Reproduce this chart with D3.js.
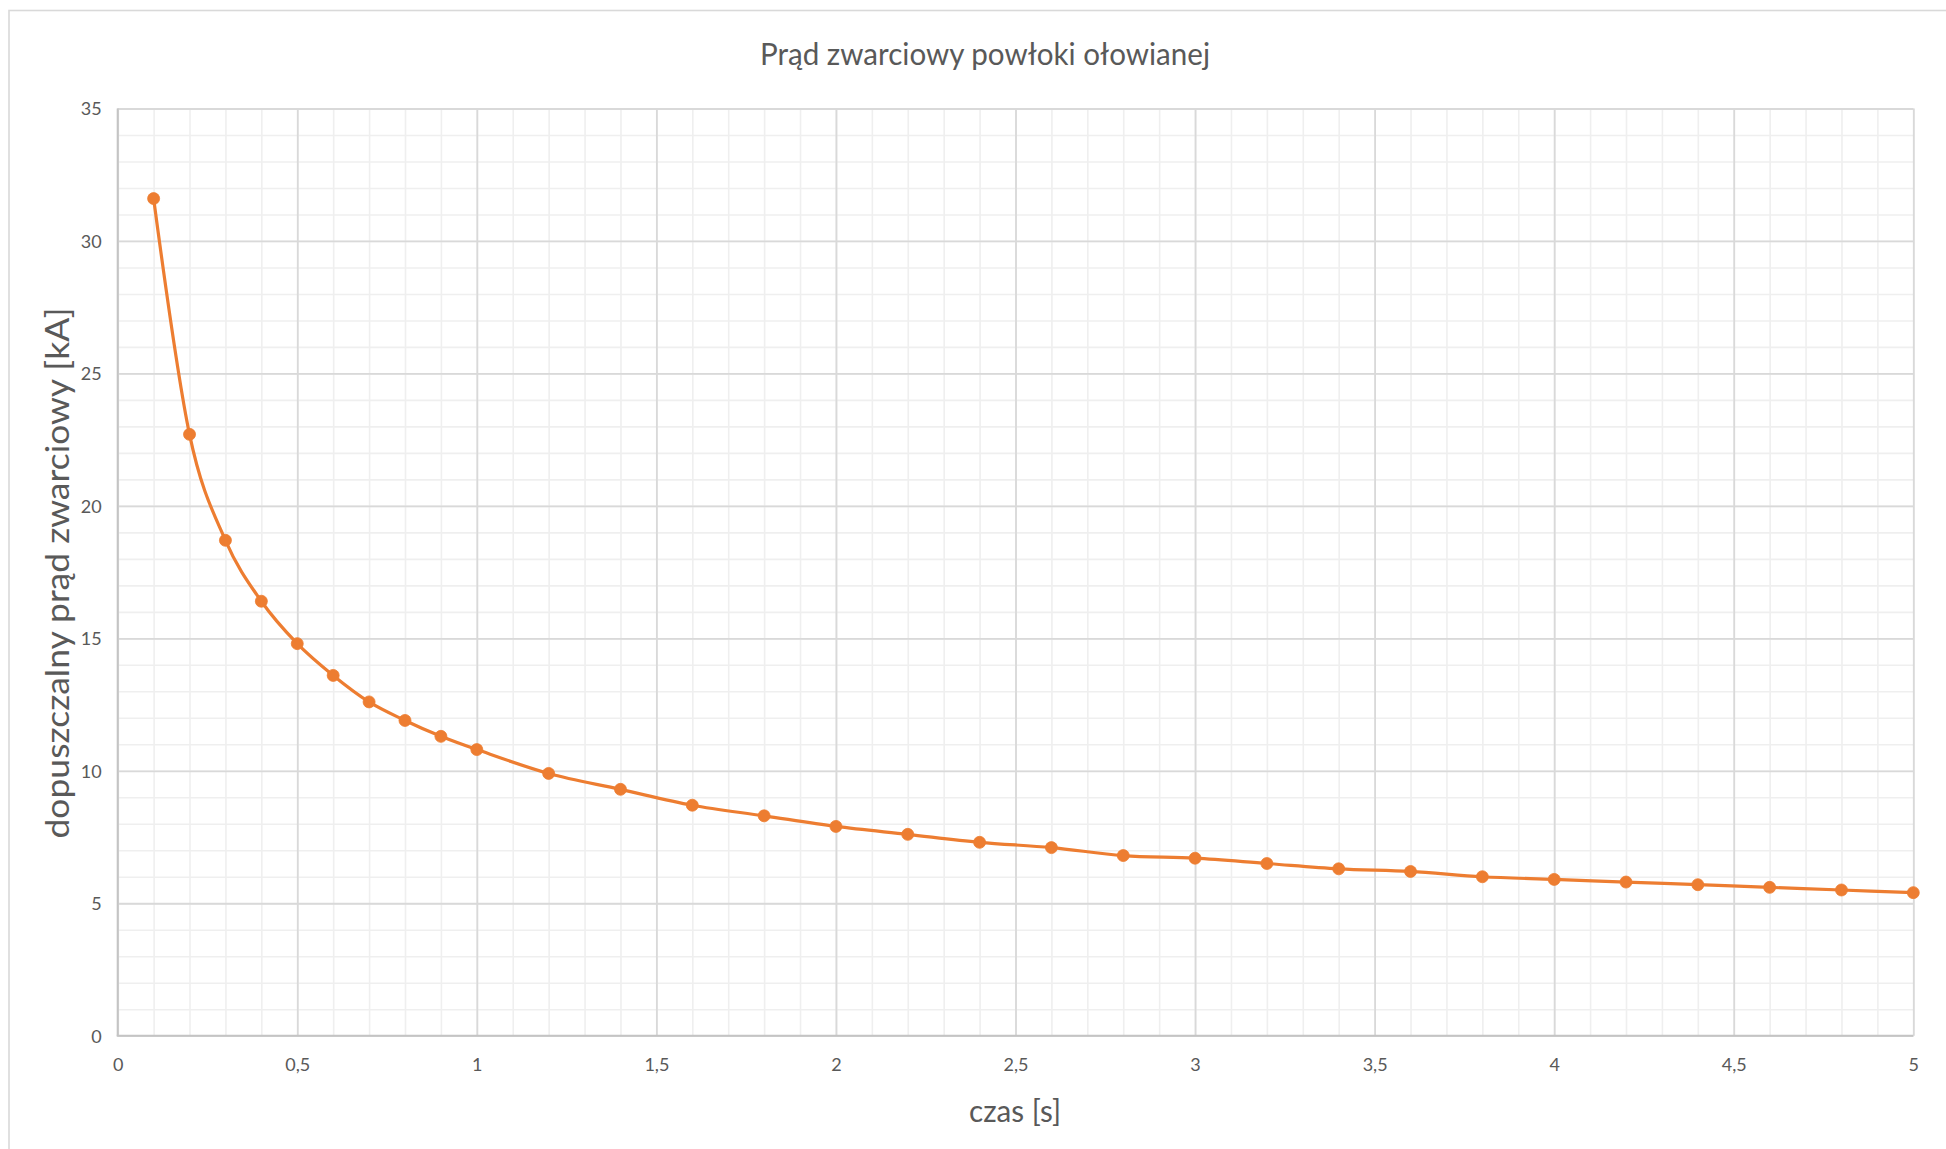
<!DOCTYPE html>
<html lang="pl">
<head>
<meta charset="utf-8">
<title>Prąd zwarciowy powłoki ołowianej</title>
<script src="https://cdn.jsdelivr.net/npm/d3@7"></script>
<style>
  html, body { margin: 0; padding: 0; background: #ffffff; }
  svg { display: block; font-family: Lato, "Open Sans", "Noto Sans", sans-serif; }
</style>
</head>
<body>
<svg id="chart" width="1946" height="1149"></svg>
<script>
// Czas trwania zwarcia [s]
const czas = [0.1, 0.2, 0.3, 0.4, 0.5, 0.6, 0.7, 0.8, 0.9, 1.0,
              1.2, 1.4, 1.6, 1.8, 2.0, 2.2, 2.4, 2.6, 2.8, 3.0,
              3.2, 3.4, 3.6, 3.8, 4.0, 4.2, 4.4, 4.6, 4.8, 5.0];
// Dopuszczalny prąd zwarciowy powłoki [kA]
const prad = [31.6, 22.7, 18.7, 16.4, 14.8, 13.6, 12.6, 11.9, 11.3, 10.8,
              9.9, 9.3, 8.7, 8.3, 7.9, 7.6, 7.3, 7.1, 6.8, 6.7,
              6.5, 6.3, 6.2, 6.0, 5.9, 5.8, 5.7, 5.6, 5.5, 5.4];
// Podziałki osi
const xTicks = [0, 0.5, 1, 1.5, 2, 2.5, 3, 3.5, 4, 4.5, 5];
const yTicks = [0, 5, 10, 15, 20, 25, 30, 35];
const xMinor = d3.range(0, 51).map(i => i / 10);
const yMinor = d3.range(0, 36);

const title = "Prąd zwarciowy powłoki ołowianej";
const xTitle = "czas [s]";
const yTitle = "dopuszczalny prąd zwarciowy [kA]";

const plLocale = d3.formatLocale({ decimal: ",", thousands: " ", grouping: [3], currency: ["", " zł"] });
const fmt = plLocale.format("~g");

const svg = d3.select("#chart");
const W = 1946, H = 1149;
const plotL = 117.7, plotR = 1913.3, plotT = 108.5, plotB = 1035.7;

const x = d3.scaleLinear().domain([0, 5]).range([plotL, plotR]);
const y = d3.scaleLinear().domain([0, 35]).range([plotB, plotT]);

// tło i ramka obszaru wykresu
svg.append("rect").attr("width", W).attr("height", H).attr("fill", "#ffffff");
svg.append("rect")
  .attr("x", 9).attr("y", 10.5).attr("width", W + 40).attr("height", H + 40)
  .attr("fill", "#ffffff").attr("stroke", "#d9d9d9").attr("stroke-width", 1.6);

// siatka pomocnicza
const grid = svg.append("g");
grid.append("g")
  .attr("transform", `translate(0,${plotB})`)
  .call(d3.axisBottom(x).tickValues(xMinor).tickSize(-(plotB - plotT)).tickFormat(""))
  .call(g => g.select(".domain").remove())
  .call(g => g.selectAll("line").attr("stroke", "#efefef").attr("stroke-width", 1.6));
grid.append("g")
  .attr("transform", `translate(${plotL},0)`)
  .call(d3.axisLeft(y).tickValues(yMinor).tickSize(-(plotR - plotL)).tickFormat(""))
  .call(g => g.select(".domain").remove())
  .call(g => g.selectAll("line").attr("stroke", "#efefef").attr("stroke-width", 1.6));

// siatka główna z opisami
const xAxis = svg.append("g")
  .attr("transform", `translate(0,${plotB})`)
  .call(d3.axisBottom(x).tickValues(xTicks).tickSize(-(plotB - plotT)).tickPadding(0).tickFormat(fmt));
xAxis.select(".domain").remove();
xAxis.selectAll("line").attr("stroke", "#d9d9d9").attr("stroke-width", 1.8);
xAxis.selectAll("text")
  .attr("y", 35).attr("dy", 0)
  .attr("fill", "#595959").attr("font-size", 18).attr("font-family", "Lato, sans-serif");

const yAxis = svg.append("g")
  .attr("transform", `translate(${plotL},0)`)
  .call(d3.axisLeft(y).tickValues(yTicks).tickSize(-(plotR - plotL)).tickPadding(0).tickFormat(fmt));
yAxis.select(".domain").remove();
yAxis.selectAll("line").attr("stroke", "#d9d9d9").attr("stroke-width", 1.8);
yAxis.selectAll("text")
  .attr("x", -16).attr("dy", "0.36em")
  .attr("fill", "#595959").attr("font-size", 18).attr("font-family", "Lato, sans-serif");

// linie osi
svg.append("line").attr("x1", plotL).attr("x2", plotL).attr("y1", plotT).attr("y2", plotB)
  .attr("stroke", "#c4c4c4").attr("stroke-width", 2);
svg.append("line").attr("x1", plotL - 1).attr("x2", plotR).attr("y1", plotB).attr("y2", plotB)
  .attr("stroke", "#c4c4c4").attr("stroke-width", 2);

// seria danych: wygładzona linia ze znacznikami
const pts = czas.map((t, i) => [t, prad[i]]);
const line = d3.line().x(d => x(d[0])).y(d => y(d[1])).curve(d3.curveCardinal.tension(0));
svg.append("path").datum(pts)
  .attr("d", line).attr("fill", "none")
  .attr("stroke", "#ED7D31").attr("stroke-width", 3.2)
  .attr("stroke-linejoin", "round").attr("stroke-linecap", "round");
svg.append("g").selectAll("circle").data(pts).join("circle")
  .attr("cx", d => x(d[0])).attr("cy", d => y(d[1])).attr("r", 6)
  .attr("fill", "#ED7D31").attr("stroke", "#ED7D31").attr("stroke-width", 0.8);

// tytuły
svg.append("text")
  .attr("x", 985).attr("y", 65).attr("text-anchor", "middle")
  .attr("font-size", 31).attr("fill", "#595959")
  .attr("textLength", 450).attr("lengthAdjust", "spacingAndGlyphs")
  .text(title);

svg.append("text")
  .attr("x", 1015).attr("y", 1122).attr("text-anchor", "middle")
  .attr("font-size", 31).attr("fill", "#595959")
  .attr("textLength", 92).attr("lengthAdjust", "spacingAndGlyphs")
  .text(xTitle);

svg.append("text")
  .attr("transform", "translate(68.5,573) rotate(-90)")
  .attr("text-anchor", "middle")
  .attr("font-size", 32).attr("fill", "#595959")
  .attr("textLength", 531).attr("lengthAdjust", "spacingAndGlyphs")
  .text(yTitle);
</script>
</body>
</html>
